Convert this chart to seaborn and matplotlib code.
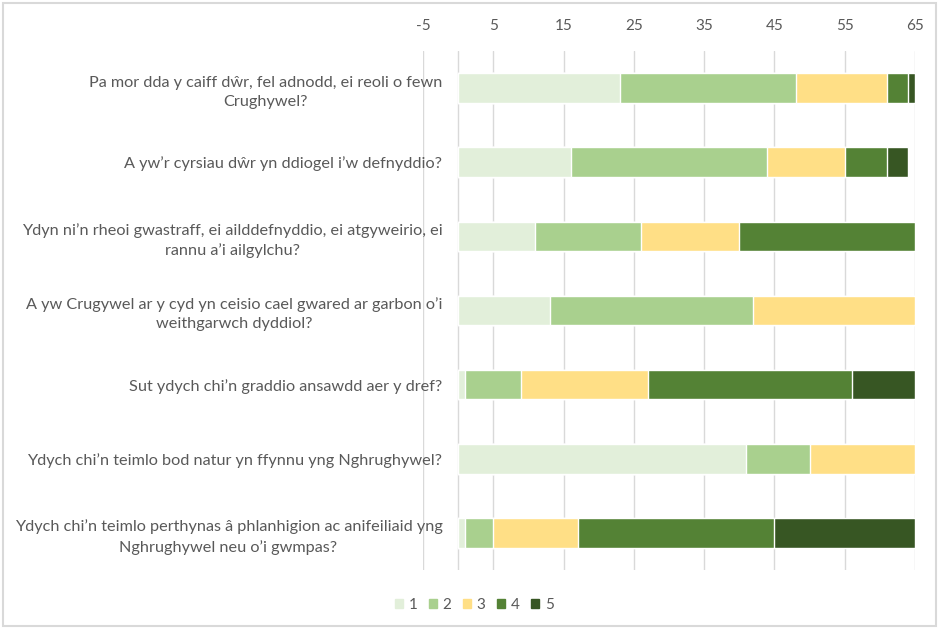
import pandas as pd
import numpy as np
import matplotlib.pyplot as plt
import seaborn as sns
from matplotlib.patches import Patch, Rectangle

# ============================================================
# Data
# ============================================================
questions = [
    "Pa mor dda y caiff dŵr, fel adnodd, ei reoli o fewn\nCrughywel?",
    "A yw’r cyrsiau dŵr yn ddiogel i’w defnyddio?",
    "Ydyn ni’n rheoi gwastraff, ei ailddefnyddio, ei atgyweirio, ei\nrannu a’i ailgylchu?",
    "A yw Crugywel ar y cyd yn ceisio cael gwared ar garbon o’i\nweithgarwch dyddiol?",
    "Sut ydych chi’n graddio ansawdd aer y dref?",
    "Ydych chi’n teimlo bod natur yn ffynnu yng Nghrughywel?",
    "Ydych chi’n teimlo perthynas â phlanhigion ac anifeiliaid yng\nNghrughywel neu o’i gwmpas?",
]
score_1 = [23, 16, 11, 13, 1, 41, 1]
score_2 = [25, 28, 15, 29, 8, 9, 4]
score_3 = [13, 11, 14, 23, 18, 15, 12]
score_4 = [3, 6, 25, 0, 29, 0, 28]
score_5 = [1, 3, 0, 0, 9, 0, 20]

levels = ["1", "2", "3", "4", "5"]
colors = ["#e2efda", "#a9d08e", "#ffdf86", "#548235", "#375623"]

df = pd.DataFrame({"question": questions, "1": score_1, "2": score_2,
                   "3": score_3, "4": score_4, "5": score_5})
cum = df[levels].cumsum(axis=1)
cum["question"] = df["question"]

# ============================================================
# Plot
# ============================================================
sns.set_style("white")
plt.rcParams["font.family"] = ["Lato", "DejaVu Sans"]
plt.rcParams["axes.unicode_minus"] = False
text_col = "#595959"
grid_col = "#d9d9d9"

fig = plt.figure(figsize=(9.39, 6.29), dpi=100)
ax = fig.add_axes([0.4505, 0.0938, 0.524, 0.825])

# stacked bars: draw cumulative totals from the largest down
for lvl, c in reversed(list(zip(levels, colors))):
    sns.barplot(data=cum, x=lvl, y="question", color=c, width=0.4,
                saturation=1, orient="h", ax=ax, zorder=2)

ax.set_xlim(-5, 65)
ax.set_xticks(np.arange(-5, 66, 10))
ax.xaxis.tick_top()
ax.set_xlabel("")
ax.set_ylabel("")
ax.grid(axis="x", color=grid_col, linewidth=1)
ax.set_axisbelow(True)
ax.axvline(0, color=grid_col, linewidth=1, zorder=1)
for s in ax.spines.values():
    s.set_visible(False)

ax.set_yticks(range(len(questions)), labels=questions,
              multialignment="center", linespacing=1.45)
ax.tick_params(axis="x", length=0, labelsize=11, labelcolor=text_col, pad=13)
ax.tick_params(axis="y", length=0, labelsize=11.7, labelcolor=text_col, pad=-14)

handles = [Patch(facecolor=c, edgecolor=c) for c in colors]
fig.legend(handles, levels, loc="center", bbox_to_anchor=(0.505, 0.038), ncol=5,
           frameon=False, handlelength=0.55, handleheight=0.55, handletextpad=0.35,
           columnspacing=0.75, fontsize=11, labelcolor=text_col)

fig.patches.append(Rectangle((0.003, 0.004), 0.994, 0.991, transform=fig.transFigure,
                             fill=False, edgecolor=grid_col, linewidth=1.5))

plt.savefig("out.png", dpi=100)
